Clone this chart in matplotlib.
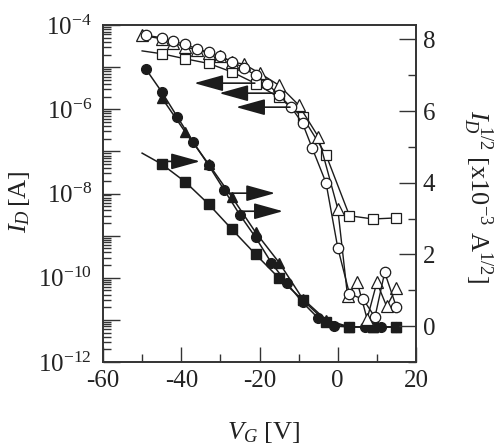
import matplotlib
matplotlib.use('Agg')
import matplotlib.pyplot as plt
from matplotlib.ticker import LogLocator, FuncFormatter, NullFormatter, MultipleLocator
import numpy as np

plt.rcParams['font.family'] = 'Liberation Serif'
plt.rcParams['mathtext.fontset'] = 'custom'
plt.rcParams['mathtext.rm'] = 'Liberation Serif'
plt.rcParams['mathtext.it'] = 'Liberation Serif:italic'
plt.rcParams['axes.unicode_minus'] = False

# filled symbols -> left axis, I_D [A]
vg_fcirc = [-49, -45, -41, -37, -33, -29, -25, -21, -17, -13, -9, -5, -1, 3, 7, 11, 15]
id_fcirc = [8.9e-6, 2.6e-6, 6.6e-7, 1.7e-7, 4.7e-8, 1.2e-8, 3.1e-9, 9.1e-10, 2.3e-10,
            7.4e-11, 2.6e-11, 1.1e-11, 7.1e-12, 6.8e-12, 6.8e-12, 6.8e-12, 6.8e-12]

vg_ftri = [-45, -39, -33, -27, -21, -15, -9, -3, 3, 9, 15]
id_ftri = [1.9e-6, 2.9e-7, 5.0e-8, 8.1e-9, 1.2e-9, 2.3e-10, 3.2e-11, 1.0e-11,
           6.8e-12, 6.8e-12, 6.8e-12]

vg_fsq = [-50, -45, -39, -33, -27, -21, -15, -9, -3, 3, 9, 15]
id_fsq = [9.1e-8, 5.0e-8, 1.9e-8, 5.6e-9, 1.4e-9, 3.6e-10, 9.8e-11, 3.0e-11,
          8.9e-12, 6.8e-12, 6.8e-12, 6.8e-12]

# open symbols -> right axis, I_D^1/2 [x10^-3 A^1/2]
vg_ocirc = [-49, -45, -42, -39, -36, -33, -30, -27, -24, -21, -18, -15, -12, -9, -6.5,
            -3, 0, 3, 6.5, 9.5, 12, 15]
sq_ocirc = [8.11, 8.05, 7.95, 7.86, 7.74, 7.64, 7.53, 7.38, 7.2, 7.0, 6.77, 6.44, 6.12,
            5.66, 4.96, 4.0, 2.19, 0.9, 0.75, 0.25, 1.5, 0.53]

vg_otri = [-50, -45, -42, -39, -36, -33, -30, -27, -24, -20, -15, -10, -5, 0, 2.5, 5,
           7.5, 10, 12.5, 15]
sq_otri = [8.11, 8.02, 7.90, 7.79, 7.71, 7.62, 7.53, 7.37, 7.31, 7.06, 6.72, 6.17, 5.29,
           3.28, 0.85, 1.22, 0.2, 1.22, 0.55, 1.06]

vg_osq = [-50, -45, -39, -33, -27, -21, -15, -9, -3, 3, 9, 15]
sq_osq = [7.68, 7.60, 7.46, 7.33, 7.09, 6.77, 6.38, 5.84, 4.78, 3.08, 2.99, 3.02]

# arrows: (tail V, tip V, level)
arrows_left = [(-21.2, -36.7, 6.78), (-16.0, -30.3, 6.5), (-12.2, -26.0, 6.11)]
arrows_right = [(-44.7, -35.2, 5.8e-8), (-28.1, -16.0, 1.02e-8), (-25.0, -14.0, 3.8e-9)]

ink = '#1c1c1c'

fig = plt.figure(figsize=(5.0, 4.48), dpi=100)
ax = fig.add_axes([0.206, 0.192, 0.626, 0.752])
ax2 = ax.twinx()

ax.plot(vg_fsq, id_fsq, '-', color=ink, lw=1.1, marker='s', ms=6.5, mfc=ink, mec=ink,
        markevery=list(range(1, len(vg_fsq))))
ax.plot(vg_ftri, id_ftri, '-', color=ink, lw=1.1, marker='^', ms=7.5, mfc=ink, mec=ink)
ax.plot(vg_fcirc, id_fcirc, '-', color=ink, lw=1.1, marker='o', ms=7, mfc=ink, mec=ink)

ax2.plot(vg_osq, sq_osq, '-', color=ink, lw=1.0, marker='s', ms=7, mfc='white', mec=ink,
         mew=0.9, markevery=list(range(1, len(vg_osq))))
ax2.plot(vg_otri, sq_otri, '-', color=ink, lw=1.0, marker='^', ms=8, mfc='white', mec=ink,
         mew=0.9)
ax2.plot(vg_ocirc, sq_ocirc, '-', color=ink, lw=1.0, marker='o', ms=7.5, mfc='white',
         mec=ink, mew=0.9)

astyle = dict(arrowstyle='-|>,head_length=1.8,head_width=0.5', mutation_scale=10,
              lw=1.2, color=ink, shrinkA=0, shrinkB=0)
for tail, tip, lev in arrows_left:
    ax2.annotate('', xy=(tip, lev), xytext=(tail, lev), arrowprops=astyle)
for tail, tip, lev in arrows_right:
    ax.annotate('', xy=(tip, lev), xytext=(tail, lev), arrowprops=astyle)

ax.set_xlim(-60, 20)
ax.set_yscale('log')
ax.set_ylim(1e-12, 1e-4)
ax2.set_ylim(-1.0, 8.4)

ax.xaxis.set_major_locator(MultipleLocator(20))
ax.xaxis.set_minor_locator(MultipleLocator(10))
ax.yaxis.set_major_locator(LogLocator(base=10, numticks=20))
ax.yaxis.set_minor_locator(LogLocator(base=10, subs=np.arange(2, 10), numticks=20))
ax.yaxis.set_minor_formatter(NullFormatter())


def even_decades(v, pos):
    e = int(round(np.log10(v)))
    if e % 2:
        return ''
    return r'$10^{%d}$' % e


ax.yaxis.set_major_formatter(FuncFormatter(even_decades))
ax2.yaxis.set_major_locator(MultipleLocator(2))
ax2.yaxis.set_minor_locator(MultipleLocator(1))

ax.tick_params(axis='both', which='both', direction='in', top=False, right=False,
               labelsize=18, colors='#333333', labelcolor='#222222')
ax.tick_params(axis='y', which='major', length=12, width=1.0, pad=8)
ax.tick_params(axis='y', which='minor', length=6, width=1.0)
ax.tick_params(axis='x', which='major', length=11, width=1.0, pad=6)
ax.tick_params(axis='x', which='minor', length=6, width=1.0)
ax2.tick_params(axis='y', which='both', direction='in', labelsize=18, colors='#333333',
                labelcolor='#222222', pad=5)
ax2.tick_params(axis='y', which='major', length=12, width=1.0)
ax2.tick_params(axis='y', which='minor', length=6, width=1.0)

for a in (ax, ax2):
    for s in a.spines.values():
        s.set_color('#333333')
        s.set_linewidth(1.2)

fig.text(20 / 500, 1 - 202 / 448, r'$I_D\,$[A]', rotation=90, ha='center', va='center',
         fontsize=19, color='#222222')
fig.text(478 / 500, 1 - 197 / 448, r'$I_D^{\ 1/2}$ [x10$^{-3}$ A$^{1/2}$]', rotation=270,
         ha='center', va='center', fontsize=19, color='#222222')
fig.text(264 / 500, 1 - 432 / 448, r'$V_G$ [V]', ha='center', va='center', fontsize=19,
         color='#222222')

fig.savefig('out.png', dpi=100)
